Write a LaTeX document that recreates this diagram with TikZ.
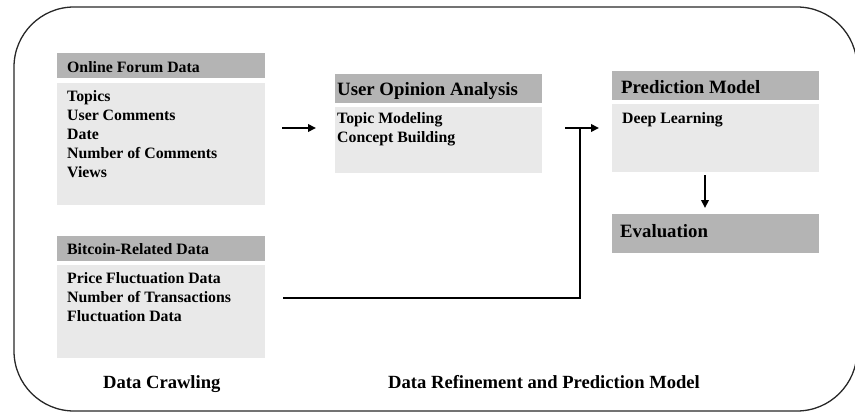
\documentclass[tikz,border=0pt]{standalone}
\usepackage{fontspec}
\setmainfont{Liberation Serif}
\usetikzlibrary{arrows.meta}
\definecolor{hdrgray}{RGB}{180,180,180}
\definecolor{bodygray}{RGB}{233,233,233}
\definecolor{framegray}{RGB}{40,40,40}
\tikzset{
  hdrbox/.style={fill=hdrgray, draw=none, anchor=north west, inner sep=0pt},
  bodybox/.style={fill=bodygray, draw=none, anchor=north west, inner sep=0pt},
  smalltxt/.style={anchor=base west, inner sep=0pt, font=\fontsize{15.8}{19}\selectfont\bfseries},
  bigtxt/.style={anchor=base west, inner sep=0pt, font=\fontsize{18.8}{22}\selectfont\bfseries},
  labeltxt/.style={anchor=base west, inner sep=0pt, font=\fontsize{18.6}{22}\selectfont\bfseries},
  conn/.style={line width=2pt, draw=black},
  arr/.style={conn, -{Triangle[length=8pt,width=7.5pt]}},
}
\begin{document}
\begin{tikzpicture}[x=1pt,y=-1pt]
\useasboundingbox (0,0) rectangle (855,415);
\draw[framegray, line width=1.3pt, rounded corners=60pt] (14,7) rectangle (857,411);

% Online Forum Data
\node[hdrbox, minimum width=208pt, minimum height=25pt] (ofh) at (57,53) {};
\node[bodybox, minimum width=208pt, minimum height=122pt] (ofb) at (57,83) {};
\node[smalltxt] (ofht) at (67,72) {Online Forum Data};
\node[smalltxt] (of1) at (67,101) {Topics};
\node[smalltxt] (of2) at (67,120) {User Comments};
\node[smalltxt] (of3) at (67,139) {Date};
\node[smalltxt] (of4) at (67,158) {Number of Comments};
\node[smalltxt] (of5) at (67,177) {Views};

% Bitcoin-Related Data
\node[hdrbox, minimum width=208pt, minimum height=25pt] (bch) at (57,236) {};
\node[bodybox, minimum width=208pt, minimum height=93pt] (bcb) at (57,265) {};
\node[smalltxt] (bcht) at (67,254) {Bitcoin-Related Data};
\node[smalltxt] (bc1) at (67,283) {Price Fluctuation Data};
\node[smalltxt] (bc2) at (67,302) {Number of Transactions};
\node[smalltxt] (bc3) at (67,321) {Fluctuation Data};

% User Opinion Analysis
\node[hdrbox, minimum width=207pt, minimum height=29pt] (uoh) at (335,74) {};
\node[bodybox, minimum width=207pt, minimum height=66pt] (uob) at (335,107) {};
\node[bigtxt] (uoht) at (337,95) {User Opinion Analysis};
\node[smalltxt] (uo1) at (337,123) {Topic Modeling};
\node[smalltxt] (uo2) at (337,142) {Concept Building};

% Prediction Model
\node[hdrbox, minimum width=207pt, minimum height=29pt] (pmh) at (612,71) {};
\node[bodybox, minimum width=207pt, minimum height=68pt] (pmb) at (612,104) {};
\node[bigtxt] (pmht) at (621,93) {Prediction Model};
\node[smalltxt] (pm1) at (622,123) {Deep Learning};

% Evaluation
\node[hdrbox, minimum width=207pt, minimum height=39pt] (evh) at (612,214) {};
\node[bigtxt] (evt) at (620,237) {Evaluation};

% bottom labels
\node[labeltxt] (lab1) at (103,388) {Data Crawling};
\node[labeltxt] (lab2) at (388,388) {Data Refinement and Prediction Model};

% connectors
\coordinate (a1s) at (282,128);
\coordinate (a1e) at (316,128);
\draw[arr] (a1s) -- (a1e);

\coordinate (t1) at (565,128);
\coordinate (t2) at (599,128);
\coordinate (t3) at (580,128);
\coordinate (b1) at (283,298);
\draw[arr] (t1) -- (t2);
\draw[conn] (b1) -| (t3);

\coordinate (d1) at (705,175);
\coordinate (d2) at (705,208);
\draw[arr] (d1) -- (d2);
\end{tikzpicture}
\end{document}
